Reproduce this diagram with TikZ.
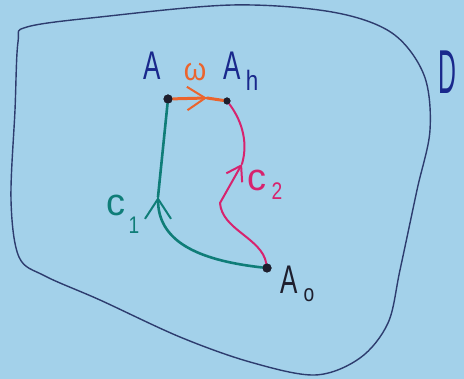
\documentclass[tikz,border=0pt]{standalone}
\usepackage{fontspec}
\setmainfont{Liberation Sans}
\usetikzlibrary{arrows.meta}
\definecolor{bg}{RGB}{163,209,234}
\definecolor{bound}{RGB}{45,60,110}
\definecolor{ink}{RGB}{25,40,140}
\definecolor{tealc}{RGB}{15,125,120}
\definecolor{magc}{RGB}{215,35,110}
\definecolor{orac}{RGB}{235,100,45}
\definecolor{dark}{RGB}{30,30,45}
\tikzset{
  pt/.style={circle,fill=dark,inner sep=0pt,minimum size=9pt},
  lab/.style={inner sep=0pt,font=\fontsize{40}{40}\selectfont},
  bigA/.style={lab,xscale=0.65},
  sub/.style={inner sep=0pt,xscale=0.8,font=\fontsize{24}{24}\selectfont},
  curveone/.style={draw=tealc,line width=2.6pt,line cap=round},
  curvetwo/.style={draw=magc,line width=2pt,line cap=round},
  omegaline/.style={draw=orac,line width=3pt,line cap=round},
  barb/.style={-{Straight Barb[length=#1,width=#1*1.3,line width=2pt]}},
}
\begin{document}
\begin{tikzpicture}[x=1pt,y=-1pt]
\fill[bg] (0,0) rectangle (464,379);
\useasboundingbox (0,0) rectangle (464,379);
% region D
\draw[bound,line width=1.4pt] plot[smooth cycle,tension=0.55] coordinates {
(27,27) (100,17) (232,5) (332,12) (392,33) (424,75) (430,130) (417,190)
(400,270) (388,323) (360,358) (315,375) (250,362) (180,337) (100,300)
(45,276) (19,257) (11,200) (15,110) (18,42)};
% points
\node[pt] (A) at (168,99) {};
\node[pt,minimum size=7pt] (Ah) at (227,101) {};
\node[pt] (A0) at (267,268) {};
\coordinate (wm) at (207,98);
\coordinate (c1m) at (158,197);
\coordinate (c2k) at (220,203);
\coordinate (c2m) at (242,164);
% curves
\draw[curveone,barb=20pt] (A0) .. controls (195,260) and (158,240) .. (c1m);
\draw[curveone] (c1m) -- (A);
\draw[curvetwo] (A0) .. controls (262,238) and (222,230) .. (c2k);
\draw[curvetwo,barb=14pt] (c2k) -- (c2m);
\draw[curvetwo] (c2m) .. controls (249,140) and (240,118) .. (Ah);
\draw[omegaline,barb=18pt] (A) -- (wm);
\draw[omegaline] (wm) -- (Ah);
\node[pt] at (A) {};
\node[pt,minimum size=7pt] at (Ah) {};
\node[pt] at (A0) {};
% labels
\node[bigA,text=ink] (lA) at (152,66) {A};
\node[bigA,text=ink] (lAh) at (232,66) {A};
\node[sub,text=ink,font=\fontsize{28}{28}\selectfont] (lh) at (252,80) {h};
\node[lab,text=orac,xscale=0.9,font=\fontsize{32}{32}\selectfont] (lw) at (195,72) {ω};
\node[lab,text=ink,xscale=0.4,font=\fontsize{62}{62}\selectfont] (lD) at (447,72) {D};
\node[bigA,text=dark] (lA0) at (289,280) {A};
\node[sub,text=dark] (l0) at (309,295) {o};
\node[lab,text=tealc,font=\fontsize{38}{38}\selectfont] (lc1) at (116,205) {c};
\node[sub,text=tealc] (l1) at (134,225) {1};
\node[lab,text=magc,font=\fontsize{38}{38}\selectfont] (lc2) at (257,180) {c};
\node[sub,text=magc] (l2) at (277,191) {2};
\end{tikzpicture}
\end{document}
